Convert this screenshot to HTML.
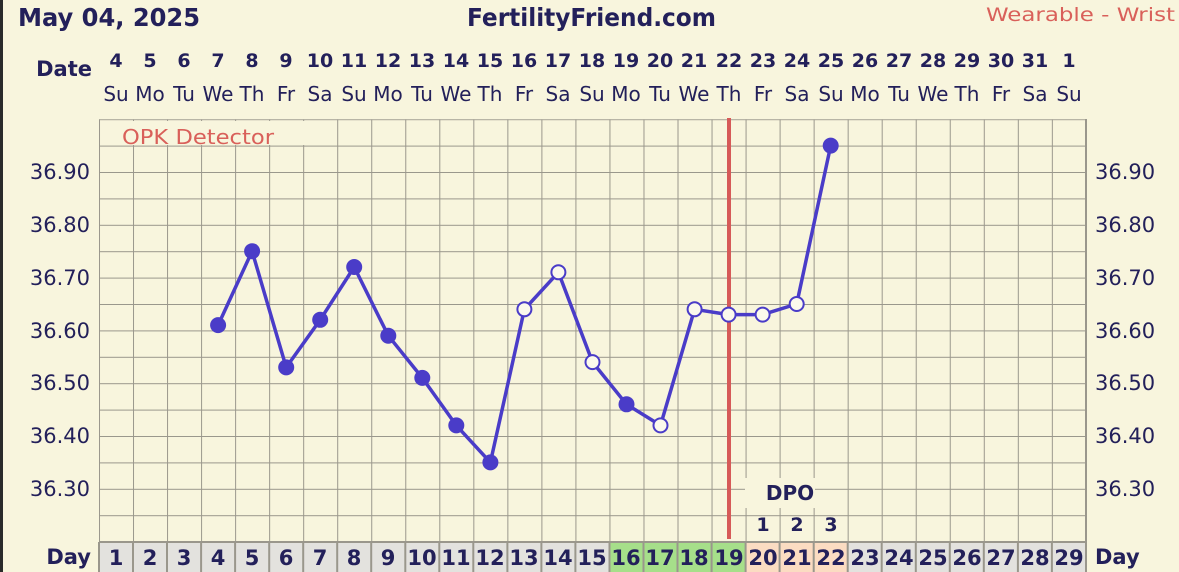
<!DOCTYPE html>
<html><head><meta charset="utf-8"><style>
html,body{margin:0;padding:0;background:#f8f5dd;}
svg{display:block;font-family:"DejaVu Sans","Liberation Sans",sans-serif;}
</style></head><body>
<svg width="1179" height="572" viewBox="0 0 1179 572" xmlns="http://www.w3.org/2000/svg">
<defs>
<pattern id="g" x="99" y="119.2" width="34.03" height="26.4" patternUnits="userSpaceOnUse">
<path d="M0 0V26.4M0 0H34.03" stroke="#9a978c" stroke-width="2" fill="none"/>
</pattern>
</defs>
<rect width="1179" height="572" fill="#f8f5dd"/>
<rect x="0" y="0" width="3" height="572" fill="#2a2a2a"/>
<rect x="99" y="119.2" width="987" height="422" fill="url(#g)"/>
<line x1="1086" y1="119" x2="1086" y2="542" stroke="#9a978c" stroke-width="2"/>
<g fill="#23205a" font-weight="bold">
<text x="18" y="26" font-size="25" textLength="182" lengthAdjust="spacingAndGlyphs">May 04, 2025</text>
<text x="467" y="26" font-size="25" textLength="249" lengthAdjust="spacingAndGlyphs">FertilityFriend.com</text>
<text x="92" y="76" font-size="21" text-anchor="end">Date</text>
</g>
<text x="986" y="21" font-size="19" fill="#d9605a" textLength="189" lengthAdjust="spacingAndGlyphs">Wearable - Wrist</text>
<g fill="#23205a" font-weight="bold" font-size="19" text-anchor="middle">
<text x="116" y="67">4</text><text x="150" y="67">5</text><text x="184" y="67">6</text><text x="218" y="67">7</text><text x="252" y="67">8</text><text x="286" y="67">9</text><text x="320" y="67">10</text><text x="354" y="67">11</text><text x="388" y="67">12</text><text x="422" y="67">13</text><text x="456" y="67">14</text><text x="490" y="67">15</text><text x="524" y="67">16</text><text x="558" y="67">17</text><text x="592" y="67">18</text><text x="626" y="67">19</text><text x="660" y="67">20</text><text x="694" y="67">21</text><text x="729" y="67">22</text><text x="763" y="67">23</text><text x="797" y="67">24</text><text x="831" y="67">25</text><text x="865" y="67">26</text><text x="899" y="67">27</text><text x="933" y="67">28</text><text x="967" y="67">29</text><text x="1001" y="67">30</text><text x="1035" y="67">31</text><text x="1069" y="67">1</text>
</g>
<g fill="#23205a" font-size="20" text-anchor="middle">
<text x="116" y="101">Su</text><text x="150" y="101">Mo</text><text x="184" y="101">Tu</text><text x="218" y="101">We</text><text x="252" y="101">Th</text><text x="286" y="101">Fr</text><text x="320" y="101">Sa</text><text x="354" y="101">Su</text><text x="388" y="101">Mo</text><text x="422" y="101">Tu</text><text x="456" y="101">We</text><text x="490" y="101">Th</text><text x="524" y="101">Fr</text><text x="558" y="101">Sa</text><text x="592" y="101">Su</text><text x="626" y="101">Mo</text><text x="660" y="101">Tu</text><text x="694" y="101">We</text><text x="729" y="101">Th</text><text x="763" y="101">Fr</text><text x="797" y="101">Sa</text><text x="831" y="101">Su</text><text x="865" y="101">Mo</text><text x="899" y="101">Tu</text><text x="933" y="101">We</text><text x="967" y="101">Th</text><text x="1001" y="101">Fr</text><text x="1035" y="101">Sa</text><text x="1069" y="101">Su</text>
</g>
<g fill="#23205a" font-size="21">
<g text-anchor="end">
<text x="90" y="179">36.90</text><text x="90" y="232">36.80</text><text x="90" y="285">36.70</text><text x="90" y="338">36.60</text><text x="90" y="390">36.50</text><text x="90" y="443">36.40</text><text x="90" y="496">36.30</text>
</g>
<text x="1095" y="179">36.90</text><text x="1095" y="232">36.80</text><text x="1095" y="285">36.70</text><text x="1095" y="338">36.60</text><text x="1095" y="390">36.50</text><text x="1095" y="443">36.40</text><text x="1095" y="496">36.30</text>
</g>
<rect x="119" y="121" width="188" height="24" fill="#f8f5dd"/>
<text x="122" y="144" font-size="20" fill="#d9605a" textLength="152" lengthAdjust="spacingAndGlyphs">OPK Detector</text>
<rect x="745" y="478" width="70" height="30" fill="#f8f5dd"/>
<text x="790" y="500" font-size="20" font-weight="bold" fill="#23205a" text-anchor="middle">DPO</text>
<g font-size="19" font-weight="bold" fill="#23205a" text-anchor="middle">
<text x="763" y="531">1</text><text x="797" y="531">2</text><text x="831" y="531">3</text>
</g>
<rect x="99" y="542" width="987" height="30" fill="#e3e2de"/>
<rect x="609.5" y="542" width="136.1" height="30" fill="#a6df8a"/>
<rect x="745.6" y="542" width="102.1" height="30" fill="#fbdcc2"/>
<path d="M99 542V572M133 542V572M167 542V572M201.1 542V572M235.1 542V572M269.2 542V572M303.2 542V572M337.2 542V572M371.2 542V572M405.3 542V572M439.3 542V572M473.3 542V572M507.4 542V572M541.4 542V572M575.4 542V572M609.5 542V572M643.5 542V572M677.5 542V572M711.6 542V572M745.6 542V572M779.6 542V572M813.7 542V572M847.7 542V572M881.7 542V572M915.8 542V572M949.8 542V572M983.8 542V572M1017.9 542V572M1051.9 542V572M1086 542V572M99 542H1086" stroke="#9a978c" stroke-width="2"/>
<g fill="#23205a" font-weight="bold" font-size="21" text-anchor="middle">
<text x="91" y="564" text-anchor="end">Day</text>
<text x="1095" y="564" text-anchor="start">Day</text>
<text x="116" y="565">1</text><text x="150" y="565">2</text><text x="184" y="565">3</text><text x="218" y="565">4</text><text x="252" y="565">5</text><text x="286" y="565">6</text><text x="320" y="565">7</text><text x="354" y="565">8</text><text x="388" y="565">9</text><text x="422" y="565">10</text><text x="456" y="565">11</text><text x="490" y="565">12</text><text x="524" y="565">13</text><text x="558" y="565">14</text><text x="592" y="565">15</text><text x="626" y="565">16</text><text x="660" y="565">17</text><text x="694" y="565">18</text><text x="729" y="565">19</text><text x="763" y="565">20</text><text x="797" y="565">21</text><text x="831" y="565">22</text><text x="865" y="565">23</text><text x="899" y="565">24</text><text x="933" y="565">25</text><text x="967" y="565">26</text><text x="1001" y="565">27</text><text x="1035" y="565">28</text><text x="1069" y="565">29</text>
</g>
<line x1="729" y1="118" x2="729" y2="539" stroke="#d65a58" stroke-width="4"/>
<polyline fill="none" stroke="#4a3cc8" stroke-width="3.5" stroke-linejoin="round" points="218.1,325.1 252.1,251.2 286.2,367.4 320.2,319.8 354.2,267 388.3,335.7 422.3,377.9 456.3,425.4 490.4,462.4 524.4,309.3 558.4,272.3 592.5,362.1 626.5,404.3 660.5,425.4 694.6,309.3 728.6,314.6 762.6,314.6 796.7,304 830.7,145.6"/>
<g fill="#4a3cc8">
<circle cx="218.1" cy="325.1" r="8"/><circle cx="252.1" cy="251.2" r="8"/><circle cx="286.2" cy="367.4" r="8"/><circle cx="320.2" cy="319.8" r="8"/><circle cx="354.2" cy="267" r="8"/><circle cx="388.3" cy="335.7" r="8"/><circle cx="422.3" cy="377.9" r="8"/><circle cx="456.3" cy="425.4" r="8"/><circle cx="490.4" cy="462.4" r="8"/><circle cx="626.5" cy="404.3" r="8"/><circle cx="830.7" cy="145.6" r="8"/>
</g>
<g fill="#fbf9ec" stroke="#4a3cc8" stroke-width="2">
<circle cx="524.4" cy="309.3" r="7"/><circle cx="558.4" cy="272.3" r="7"/><circle cx="592.5" cy="362.1" r="7"/><circle cx="660.5" cy="425.4" r="7"/><circle cx="694.6" cy="309.3" r="7"/><circle cx="728.6" cy="314.6" r="7"/><circle cx="762.6" cy="314.6" r="7"/><circle cx="796.7" cy="304" r="7"/>
</g>
</svg>
</body></html>
